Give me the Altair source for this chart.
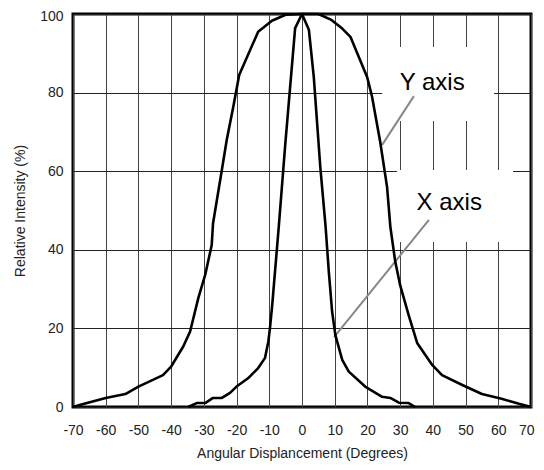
import altair as alt
import pandas as pd

# Y-axis (wide) beam profile
y_deg = [-70, -68, -60, -54, -50, -42.5, -40, -36.3, -34.2, -31.7, -29.6, -27.6, -27.2, -24.5, -23,
         -21, -19.2, -13.4, -9.2, -5, 0, 5, 9, 12.3, 14.8, 19.9, 21.4, 23.9, 26, 27, 28.5, 30, 32.6,
         35.2, 39.8, 42.8, 49, 55, 61, 66.3, 70]
y_int = [0, 0.5, 2.3, 3.3, 5.2, 8.1, 10.3, 15.4, 19.2, 27.7, 33.6, 41.2, 46.7, 60.3, 68,
         76.4, 84.5, 95.5, 98.3, 99.8, 100, 100, 98.5, 96.3, 94.2, 84, 79, 67.5, 56, 45.9, 37, 31, 23.4,
         16.3, 10.7, 8.1, 5.6, 3.3, 2.1, 0.8, 0]

# X-axis (narrow) beam profile
x_deg = [-34.8, -32.2, -29.6, -27.2, -24.5, -22, -20, -16.5, -13.4, -11.3, -10.3, -9.8, -9.1, -7.1,
         -5.1, -2.1, 0, 2.1, 3.6, 5.6, 7.2, 8.2, 9.2, 10.2, 12.3, 14.3, 19.3, 24.5, 27, 29.6, 32.6, 34.6]
x_int = [0, 1, 1, 2.3, 2.3, 3.6, 5.2, 7.3, 9.9, 12.5, 16.6, 20, 26, 45.9,
         67, 96.4, 100, 96, 84, 61, 46, 34.4, 24.3, 18.3, 12, 9, 5.2, 2.6, 2.3, 1.1, 1, 0]

x_ticks = list(range(-70, 71, 10))
y_ticks = [0, 20, 40, 60, 80, 100]

# annotation labels
ann_text = ["Y axis", "X axis"]
ann_x = [39.8, 45.0]
ann_y = [82.4, 51.9]
box_x1 = [24.5, 29.0]
box_x2 = [58.7, 64.5]
box_y1 = [72.8, 42.0]
box_y2 = [91.6, 60.3]
lead_x1 = [34.2, 38.8]
lead_y1 = [79.1, 47.6]
lead_x2 = [24.5, 9.8]
lead_y2 = [66.7, 17.8]

rows = []
for i, (a, b) in enumerate(zip(y_deg, y_int)):
    rows.append({"series": "Y axis", "i": i, "deg": a, "val": b})
for i, (a, b) in enumerate(zip(x_deg, x_int)):
    rows.append({"series": "X axis", "i": i, "deg": a, "val": b})
curves = pd.DataFrame(rows)

ann = pd.DataFrame({"t": ann_text, "x": ann_x, "y": ann_y,
                    "bx1": box_x1, "bx2": box_x2, "by1": box_y1, "by2": box_y2,
                    "lx1": lead_x1, "ly1": lead_y1, "lx2": lead_x2, "ly2": lead_y2})

xs = alt.Scale(domain=[-70, 70], nice=False, zero=False)
ys = alt.Scale(domain=[0, 100], nice=False)

FONT = "Liberation Sans"

x_axis = alt.Axis(values=x_ticks, title="Angular Displancement (Degrees)", ticks=False,
                  labelPadding=16, titlePadding=9, domain=False, labelOverlap=False,
                  labelFlush=False, labelBound=False,
                  labelAlign={"condition": {"test": "datum.value == 70", "value": "right"},
                              "value": "center"},
                  labelOffset={"condition": {"test": "datum.value == 70", "value": 3},
                               "value": 0},
                  labelExpr="toString(datum.value)",
                  gridColor="#444", gridWidth=1, gridOpacity=1)
y_axis = alt.Axis(values=y_ticks, title="Relative Intensity (%)", ticks=False,
                  labelPadding=10, titlePadding=12, domain=False, labelOverlap=False,
                  labelFlush=False, labelBound=False,
                  labelOffset={"condition": {"test": "datum.value == 100", "value": 2},
                               "value": 0},
                  gridColor="#222", gridWidth=1, gridOpacity=1)

lines = alt.Chart(curves).mark_line(color="black", strokeWidth=2.6, strokeJoin="round").encode(
    x=alt.X("deg:Q", scale=xs, axis=x_axis),
    y=alt.Y("val:Q", scale=ys, axis=y_axis),
    detail="series:N",
    order="i:Q",
)

boxes = alt.Chart(ann).mark_rect(color="white").encode(
    x=alt.X("bx1:Q", scale=xs, axis=x_axis), x2="bx2",
    y=alt.Y("by1:Q", scale=ys, axis=y_axis), y2="by2")

leaders = alt.Chart(ann).mark_rule(color="#888", strokeWidth=2).encode(
    x=alt.X("lx1:Q", scale=xs, axis=x_axis), x2="lx2",
    y=alt.Y("ly1:Q", scale=ys, axis=y_axis), y2="ly2")

labels = alt.Chart(ann).mark_text(fontSize=24, font=FONT, color="black").encode(
    x=alt.X("x:Q", scale=xs, axis=x_axis), y=alt.Y("y:Q", scale=ys, axis=y_axis), text="t:N")

chart = alt.layer(boxes, leaders, lines, labels).properties(
    width=458, height=393,
    background="white",
    autosize=alt.AutoSizeParams(type="none"),
    padding={"left": 65, "top": 6, "right": 5, "bottom": 55},
).configure_view(stroke="black", strokeWidth=3).configure_axis(
    labelFont=FONT, titleFont=FONT, labelFontSize=14, titleFontSize=14,
    labelColor="#222", titleColor="#222", titleFontWeight="normal",
)

chart.save("out.html", embed_options={"renderer": "svg", "actions": False})
